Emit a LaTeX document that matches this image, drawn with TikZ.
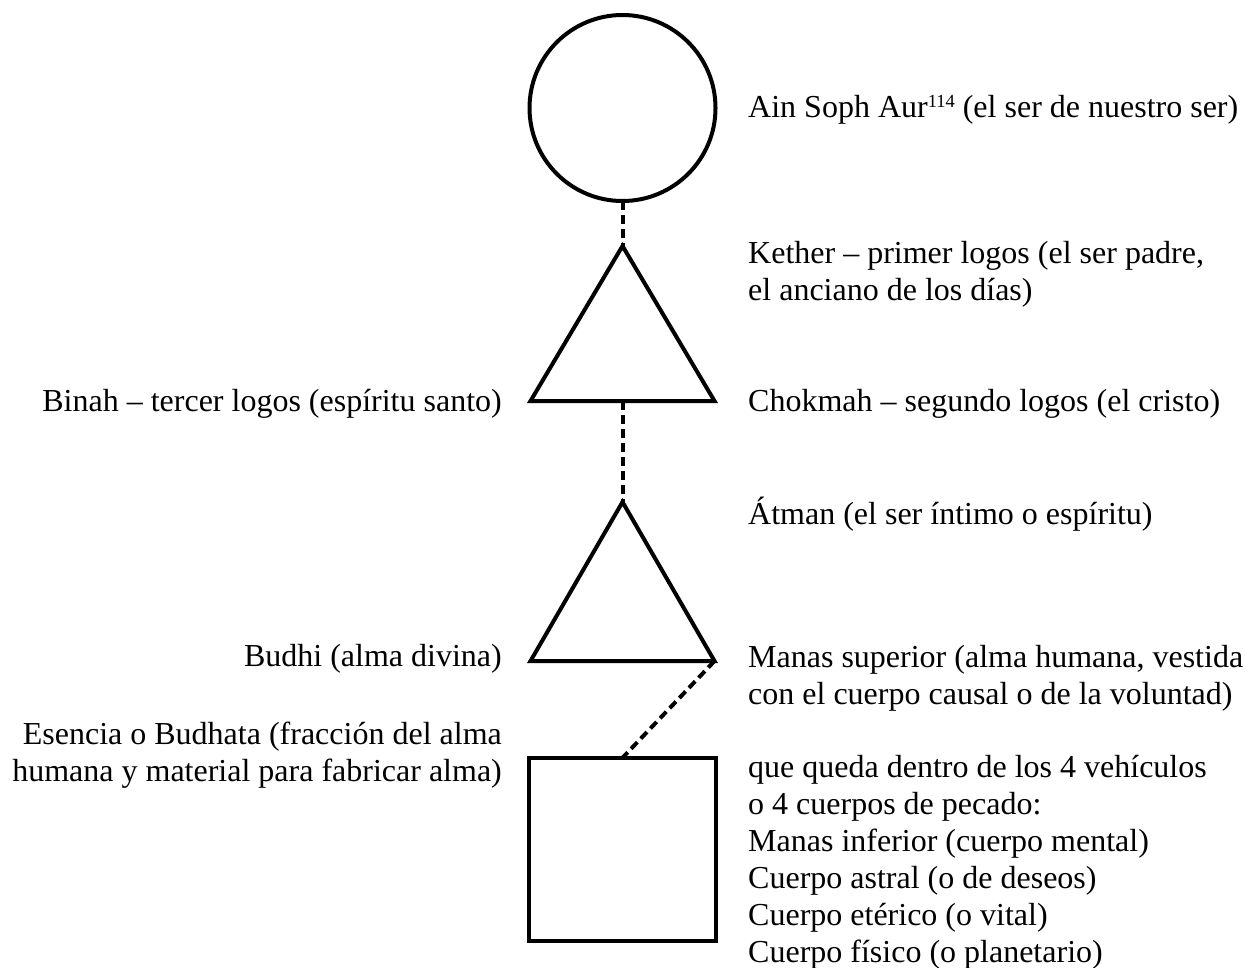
\documentclass[tikz,border=0pt]{standalone}
\usepackage{fontspec}
\setmainfont{Liberation Serif}
\begin{document}
\begin{tikzpicture}[x=1pt,y=-1pt,
  shape line/.style={line width=4pt,line join=miter},
  link/.style={line width=4pt,dash pattern=on 9pt off 5pt},
  txt/.style={inner sep=0pt,font=\fontsize{32}{37}\selectfont},
  ltxt/.style={txt,anchor=base west,align=left},
  rtxt/.style={txt,anchor=base east,align=right}]
\useasboundingbox (0,0) rectangle (1246,967);
% anchor points
\node[circle,minimum size=186pt,inner sep=0pt] (c1) at (622.5,108) {};
\coordinate (t1a) at (622.5,246);
\coordinate (t1l) at (530.5,401);
\coordinate (t1r) at (714.5,401);
\coordinate (t1b) at (622.5,401);
\coordinate (t2a) at (622.5,502);
\coordinate (t2l) at (530.5,661);
\coordinate (t2r) at (714.5,661);
\node[rectangle,minimum width=187pt,minimum height=183pt,inner sep=0pt] (sq) at (622.5,849.5) {};
% connectors
\draw[link] (c1.south) -- (t1a);
\draw[link] (t1b) -- (t2a);
\draw[link] (t2r) -- (sq.north);
% shapes
\draw[shape line] (c1.center) circle[radius=93pt];
\draw[shape line,fill=white] (t1a) -- (t1r) -- (t1l) -- cycle;
\draw[shape line,fill=white] (t2a) -- (t2r) -- (t2l) -- cycle;
\draw[shape line] (sq.north west) rectangle (sq.south east);
% texts (multi-line nodes: base = last line)
\node[ltxt] (ain) at (748,117) {Ain Soph Aur{\fontsize{18.5}{18.5}\selectfont\raisebox{10pt}{114}} (el ser de nuestro ser)};
\node[ltxt] (kether) at (748,300) {Kether – primer logos (el ser padre,\\el anciano de los días)};
\node[rtxt] (binah) at (502,411) {Binah – tercer logos (espíritu santo)};
\node[ltxt] (chokmah) at (748,411) {Chokmah – segundo logos (el cristo)};
\node[ltxt] (atman) at (748,524) {Átman (el ser íntimo o espíritu)};
\node[rtxt] (budhi) at (502,666) {Budhi (alma divina)};
\node[ltxt] (manas) at (748,704) {Manas superior (alma humana, vestida\\con el cuerpo causal o de la voluntad)};
\node[rtxt] (esencia) at (502,781) {Esencia o Budhata (fracción del alma\\humana y material para fabricar alma)};
\node[ltxt] (cuerpos) at (748,962) {que queda dentro de los 4 vehículos\\o 4 cuerpos de pecado:\\Manas inferior (cuerpo mental)\\Cuerpo astral (o de deseos)\\Cuerpo etérico (o vital)\\Cuerpo físico (o planetario)};
\end{tikzpicture}
\end{document}
